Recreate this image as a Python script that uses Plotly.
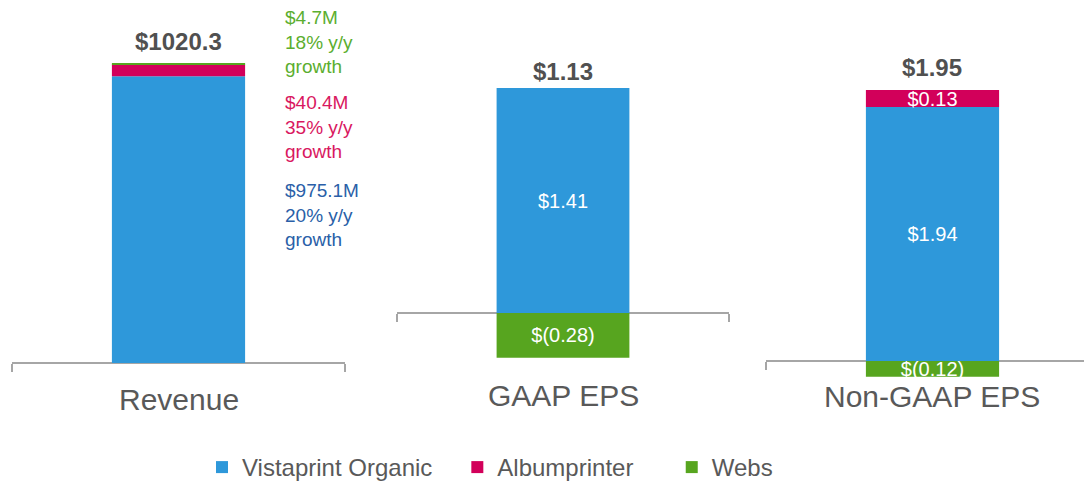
import plotly.graph_objects as go

# ---- data ----
categories = ["Revenue", "GAAP EPS", "Non-GAAP EPS"]
series_names = ["Vistaprint Organic", "Albumprinter", "Webs"]
vistaprint = [975.1, 1.41, 1.94]
albumprinter = [40.4, None, 0.13]
webs = [4.7, -0.28, -0.12]
total_labels = ["$1020.3", "$1.13", "$1.95"]
revenue_notes = [
    "$4.7M<br>18% y/y<br>growth",
    "$40.4M<br>35% y/y<br>growth",
    "$975.1M<br>20% y/y<br>growth",
]

# ---- style ----
W = 1084
FIG_H = 490        # figure slightly taller than the 482px window; bottom is cropped
FONT = "Liberation Sans, Arial, sans-serif"
bar_colors = ["#2E98DA", "#D2005A", "#57A51F"]
note_colors = ["#5BAE2F", "#D9185F", "#2A5FA8"]
axis_color = "#A6A6A6"
text_color = "#595959"
legend_pad = ["\u00a0\u00a0\u00a0", "\u00a0\u00a0\u00a0\u00a0\u00a0", ""]

# per-panel geometry (pixels)
x_domains = [[12 / W, 345 / W], [397 / W, 729 / W], [766 / W, 1.0]]
x_ranges = [[-0.5, 0.5], [-0.5, 0.5], [-0.5, 0.455]]
baseline_px = [363, 313, 361]
px_per_unit = [0.29406, 159.57, 130.9]
total_yshift = [21.5, 17, 23]
cat_label_px = [399, 395, 396]
note_center_px = [42, 127, 215]


def paper_y(py):
    return 1 - py / FIG_H


def eps_label(v, panel):
    if v is None or panel == 0:
        return ""
    if v < 0:
        return "$(%.2f)" % abs(v)
    return "$%.2f" % v


series_values = [vistaprint, albumprinter, webs]

fig = go.Figure()
for s, (name, vals) in enumerate(zip(series_names, series_values)):
    for p in range(3):
        v = vals[p]
        ax = "" if p == 0 else str(p + 1)
        fig.add_trace(go.Bar(
            x=[0],
            y=[v],
            name=name + legend_pad[s],
            legendgroup=name,
            showlegend=(p == 0),
            marker=dict(color=bar_colors[s], line=dict(width=0)),
            width=0.4,
            text=[eps_label(v, p)],
            textposition="inside",
            insidetextanchor="middle",
            textangle=0,
            constraintext="none",
            textfont=dict(family=FONT, size=20, color="white"),
            hovertext=[categories[p]],
            hoverinfo="name+y+text",
            xaxis="x" + ax,
            yaxis="y" + ax,
        ))

layout = dict(
    width=W, height=FIG_H,
    autosize=False,
    margin=dict(l=0, r=0, t=0, b=0),
    paper_bgcolor="white",
    plot_bgcolor="white",
    barmode="relative",
    font=dict(family=FONT, color=text_color),
    legend=dict(
        orientation="h",
        x=202 / W, xanchor="left",
        y=0, yanchor="bottom",
        font=dict(family=FONT, size=24, color=text_color),
        itemclick=False, itemdoubleclick=False,
    ),
)

for p in range(3):
    ax = "" if p == 0 else str(p + 1)
    base, ppu = baseline_px[p], px_per_unit[p]
    layout["xaxis" + ax] = dict(
        domain=x_domains[p],
        range=x_ranges[p],
        anchor="free",
        position=paper_y(base),
        showline=True, linecolor=axis_color, linewidth=1.5,
        ticks="outside", tickvals=[-0.5, 0.5], ticklen=8,
        tickcolor=axis_color, tickwidth=1.5,
        showticklabels=False, showgrid=False, zeroline=False,
        layer="below traces", fixedrange=True,
    )
    layout["yaxis" + ax] = dict(
        domain=[0, 1], range=[-(FIG_H - base) / ppu, base / ppu], anchor="x" + ax,
        visible=False, showgrid=False, zeroline=False, fixedrange=True,
    )

fig.update_layout(**layout)

annotations = []
for p in range(3):
    ax = "" if p == 0 else str(p + 1)
    top = sum(v for v in (vistaprint[p], albumprinter[p], webs[p]) if v is not None and v > 0)
    annotations.append(dict(
        x=0, y=top, xref="x" + ax, yref="y" + ax,
        text="<b>%s</b>" % total_labels[p], showarrow=False,
        yanchor="middle", yshift=total_yshift[p],
        font=dict(family=FONT, size=24, color="#505050"),
    ))
    annotations.append(dict(
        x=0, y=paper_y(cat_label_px[p]), xref="x" + ax, yref="paper",
        text=categories[p], showarrow=False, yanchor="middle",
        font=dict(family=FONT, size=30, color=text_color),
    ))

for i, note in enumerate(revenue_notes):
    annotations.append(dict(
        x=283 / W, y=paper_y(note_center_px[i]), xref="paper", yref="paper",
        xanchor="left", yanchor="middle", align="left",
        text=note, showarrow=False,
        font=dict(family=FONT, size=19, color=note_colors[i]),
    ))

fig.update_layout(annotations=annotations)
fig.write_html(
    "out.html",
    config={"responsive": False, "displayModeBar": False},
    post_script="document.body.style.margin='0';document.body.style.overflow='hidden';",
)
